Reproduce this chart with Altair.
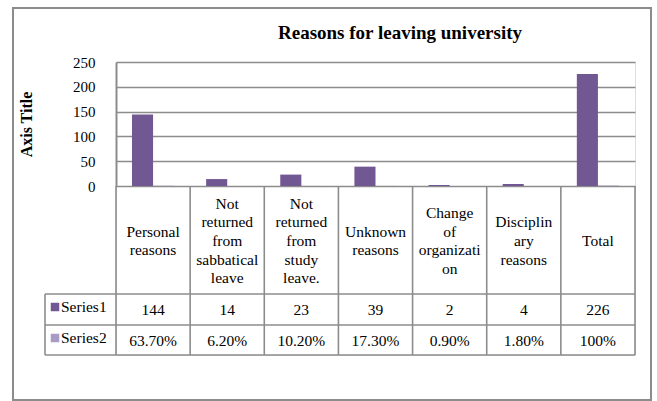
import altair as alt
import pandas as pd

categories = ["Personal reasons", "Not returned from sabbatical leave",
              "Not returned from study leave.", "Unknown reasons",
              "Change of organization", "Disciplinary reasons", "Total"]
header_labels = ["Personal\nreasons", "Not\nreturned\nfrom\nsabbatical\nleave",
                 "Not\nreturned\nfrom\nstudy\nleave.", "Unknown\nreasons",
                 "Change\nof\norganizati\non", "Disciplin\nary\nreasons", "Total"]
series1 = [144, 14, 23, 39, 2, 4, 226]
series2_pct = [63.7, 6.2, 10.2, 17.3, 0.9, 1.8, 100]
series2_labels = ["63.70%", "6.20%", "10.20%", "17.30%", "0.90%", "1.80%", "100%"]
series_names = ["Series1", "Series2"]
y_ticks = [0, 50, 100, 150, 200, 250]
title_text = "Reasons for leaving university"

DARK = "#725893"
LIGHT = "#A99BC6"
GRID = "#8c8c8c"
FONT = "Liberation Serif, Times New Roman, serif"

rows = []
for c, v in zip(categories, series1):
    rows.append({"cat": c, "series": "Series1", "value": v})
for c, v in zip(categories, series2_pct):
    rows.append({"cat": c, "series": "Series2", "value": v / 100.0})
bars_df = pd.DataFrame(rows)

table_df = pd.DataFrame({
    "cat": categories,
    "header": header_labels,
    "nlines": [h.count("\n") + 1 for h in header_labels],
    "s1": [str(v) for v in series1],
    "s2": series2_labels,
})
legend_df = pd.DataFrame({"series": series_names, "label": series_names})

W, H = 519, 293
PLOT_H = 124
Y_HEADER_BOTTOM = 232
Y_ROW1_BOTTOM = 263
Y_ROW2_BOTTOM = 293
LEFT_CELL = -71
LH = 18.6
HEADER_CENTER = 179

xscale = alt.Scale(domain=categories, paddingInner=0, paddingOuter=0)

def xenc(**kw):
    return alt.X("cat:N", scale=xscale, axis=None, **kw)

bars = alt.Chart(bars_df).mark_bar().encode(
    x=xenc(),
    xOffset=alt.XOffset("series:N", scale=alt.Scale(domain=series_names, paddingInner=0, paddingOuter=0.757)),
    y=alt.Y("value:Q",
            scale=alt.Scale(domain=[0, 250], range=[PLOT_H, 0]),
            axis=alt.Axis(values=y_ticks, title="Axis Title", ticks=False,
                          labelFont=FONT, labelFontSize=15, labelColor="black",
                          labelPadding=21, domainColor=GRID, domainWidth=2,
                          gridColor=GRID, gridWidth=1.6, grid=True,
                          titleFont=FONT, titleFontSize=16, titleFontWeight="bold",
                          titleColor="black", titlePadding=38)),
    color=alt.Color("series:N", scale=alt.Scale(domain=series_names, range=[DARK, LIGHT]), legend=None),
)

tbase = alt.Chart(table_df)

header_layers = []
for n in sorted(set(table_df["nlines"])):
    header_layers.append(
        tbase.transform_filter(alt.datum.nlines == int(n)).mark_text(
            font=FONT, fontSize=15.5, lineBreak="\n", lineHeight=LH,
            baseline="middle", align="center", color="black").encode(
            x=xenc(), y=alt.value(HEADER_CENTER - (int(n) - 1) / 2 * LH), text="header:N"))

row1_text = tbase.mark_text(font=FONT, fontSize=15.5, baseline="middle", color="black").encode(
    x=xenc(), y=alt.value(248), text="s1:N")
row2_text = tbase.mark_text(font=FONT, fontSize=15.5, baseline="middle", color="black").encode(
    x=xenc(), y=alt.value(279), text="s2:N")

vlines = tbase.mark_rule(color=GRID, strokeWidth=1.6).encode(
    x=xenc(bandPosition=0), y=alt.value(PLOT_H), y2=alt.value(Y_ROW2_BOTTOM))
one = alt.Data(values=[{"a": 1}])
vright = alt.Chart(one).mark_rule(color=GRID, strokeWidth=1.6).encode(
    x=alt.value(W), y=alt.value(PLOT_H), y2=alt.value(Y_ROW2_BOTTOM))
vleft = alt.Chart(one).mark_rule(color=GRID, strokeWidth=1.6).encode(
    x=alt.value(LEFT_CELL), y=alt.value(Y_HEADER_BOTTOM), y2=alt.value(Y_ROW2_BOTTOM))
hlines = [alt.Chart(one).mark_rule(color=GRID, strokeWidth=1.6).encode(
    x=alt.value(LEFT_CELL), x2=alt.value(W), y=alt.value(yy))
    for yy in (Y_HEADER_BOTTOM, Y_ROW1_BOTTOM, Y_ROW2_BOTTOM)]

leg_y = {"Series1": 245, "Series2": 276}
leg_layers = []
for s in series_names:
    d = legend_df[legend_df["series"] == s]
    leg_layers.append(alt.Chart(d).mark_square(size=72, opacity=1).encode(
        x=alt.value(-61), y=alt.value(leg_y[s]),
        color=alt.Color("series:N", scale=alt.Scale(domain=series_names, range=[DARK, LIGHT]), legend=None)))
    leg_layers.append(alt.Chart(d).mark_text(font=FONT, fontSize=15.5, align="left",
                                             baseline="middle", color="black").encode(
        x=alt.value(-55), y=alt.value(leg_y[s]), text="label:N"))

border = alt.Chart(one).mark_rect(filled=False, stroke="#8c8c8c", strokeWidth=2).encode(
    x=alt.value(-103), x2=alt.value(535), y=alt.value(-54), y2=alt.value(338))

title = alt.Chart(alt.Data(values=[{"t": title_text}])).mark_text(
    font=FONT, fontSize=19, fontWeight="bold", color="black",
    align="center", baseline="middle").encode(
    x=alt.value(284), y=alt.value(-29), text="t:N")

chart = alt.layer(
    border, bars, *hlines, vlines, vright, vleft, *header_layers, row1_text, row2_text,
    *leg_layers, title
).properties(
    width=W, height=H,
    autosize=alt.AutoSizeParams(type="none"),
    padding={"left": 116, "top": 62, "right": 22, "bottom": 46},
).configure_view(stroke=None).configure(background="white")

chart.save("out.html", embed_options={"renderer": "svg", "actions": False})
